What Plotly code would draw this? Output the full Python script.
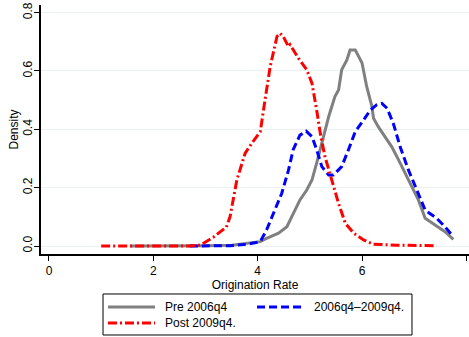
import plotly.graph_objects as go

# Pre 2006q4
pre_x = [1.55, 2.5, 3.0, 3.5, 4.05, 4.17, 4.4, 4.56, 4.68, 4.81, 4.94, 5.04, 5.13, 5.23, 5.36, 5.48, 5.55,
         5.61, 5.71, 5.77, 5.87, 6.0, 6.09, 6.19, 6.22, 6.31, 6.44, 6.57, 6.7, 6.83, 6.95, 7.08, 7.21,
         7.4, 7.59, 7.75]
pre_y = [0.0, 0.0, 0.001, 0.003, 0.015, 0.026, 0.044, 0.066, 0.112, 0.158, 0.192, 0.226, 0.284, 0.352,
         0.443, 0.512, 0.535, 0.604, 0.638, 0.672, 0.672, 0.627, 0.546, 0.478, 0.438, 0.409, 0.375,
         0.34, 0.295, 0.249, 0.203, 0.158, 0.095, 0.072, 0.049, 0.023]

# 2006q4-2009q4
mid_x = [2.7, 3.0, 3.47, 3.8, 4.05, 4.17, 4.3, 4.46, 4.59, 4.68, 4.81, 4.93, 5.04, 5.13, 5.23, 5.36,
         5.45, 5.61, 5.74, 5.87, 6.03, 6.16, 6.28, 6.38, 6.48, 6.6, 6.73, 6.89, 7.05, 7.21, 7.43,
         7.59, 7.72]
mid_y = [0.0, 0.0, 0.001, 0.006, 0.015, 0.055, 0.112, 0.18, 0.26, 0.33, 0.38, 0.394, 0.375, 0.33,
         0.272, 0.243, 0.243, 0.272, 0.33, 0.392, 0.432, 0.466, 0.484, 0.489, 0.472, 0.42, 0.34,
         0.26, 0.192, 0.123, 0.095, 0.066, 0.038]

# Post 2009q4
post_x = [1.0, 2.0, 2.7, 2.9, 3.15, 3.4, 3.47, 3.6, 3.76, 3.89, 4.05, 4.14, 4.24, 4.37, 4.43, 4.49,
          4.59, 4.62, 4.78, 4.94, 5.04, 5.13, 5.2, 5.29, 5.42, 5.55, 5.68, 5.84, 6.03, 6.22, 6.67,
          7.43]
post_y = [0.0, 0.0, 0.0, 0.003, 0.03, 0.065, 0.10, 0.226, 0.318, 0.353, 0.392, 0.50, 0.615, 0.718,
          0.729, 0.718, 0.683, 0.69, 0.644, 0.604, 0.558, 0.466, 0.386, 0.306, 0.226, 0.146, 0.078,
          0.044, 0.021, 0.006, 0.003, 0.001]

series_names = ["Pre 2006q4", "2006q4\u20132009q4.", "Post 2009q4."]
series_colors = ["#808080", "#0000ff", "#ff0000"]
series_dash = ["solid", "8px,4px", "9px,3px,2px,3px"]

x_ticks = [0, 2, 4, 6, 8]
y_ticks = [0.0, 0.2, 0.4, 0.6, 0.8]

FONT = "Liberation Sans, Arial, sans-serif"

fig = go.Figure()
for xs, ys, nm, col, ds in zip([pre_x, mid_x, post_x], [pre_y, mid_y, post_y],
                               series_names, series_colors, series_dash):
    fig.add_trace(go.Scatter(x=xs, y=ys, mode="lines", name=nm, showlegend=False,
                             line=dict(color=col, width=3, dash=ds)))

# legend drawn in paper coordinates (box, samples, labels)
fig.add_shape(type="rect", xref="paper", yref="paper", x0=0.1449, x1=0.8668, y0=-0.1606, y1=-0.3253,
              line=dict(color="#000", width=1), fillcolor="white")
legend_slots = [(0.1565, 0.2664, 0.2850, -0.2129),   # Pre 2006q4
                (0.5047, 0.6098, 0.6332, -0.2129),   # 2006q4-2009q4
                (0.1565, 0.2664, 0.2850, -0.2771)]   # Post 2009q4
for (sx0, sx1, tx, ly), nm, col, ds in zip(legend_slots, series_names, series_colors, series_dash):
    fig.add_shape(type="line", xref="paper", yref="paper", x0=sx0, x1=sx1, y0=ly, y1=ly,
                  line=dict(color=col, width=3, dash=ds))
    fig.add_annotation(xref="paper", yref="paper", x=tx, y=ly, text=nm, showarrow=False,
                       xanchor="left", yanchor="middle", font=dict(size=12, color="#000"))

# y-axis title
fig.add_annotation(xref="paper", yref="paper", x=-0.0654, y=0.5, text="Density", showarrow=False,
                   textangle=-90, xanchor="center", yanchor="middle", font=dict(size=12, color="#000"))

fig.update_layout(
    width=469, height=337,
    margin=dict(l=41, r=0, t=5, b=83, autoexpand=False),
    plot_bgcolor="white", paper_bgcolor="white",
    font=dict(family=FONT, size=12, color="#000"),
    showlegend=False,
)
fig.update_xaxes(range=[-0.153, 8.05], tickvals=x_ticks, ticks="outside", ticklen=5,
                 tickcolor="#000", showline=True, linecolor="#000", linewidth=1.5,
                 showgrid=False, zeroline=False,
                 title=dict(text="Origination Rate", standoff=0, font=dict(size=12)))
fig.update_yaxes(range=[-0.0274, 0.826], tickvals=y_ticks, tickformat=".1f", ticks="outside",
                 ticklen=5, tickcolor="#000", showline=True, linecolor="#000", linewidth=1.5,
                 showgrid=True, gridcolor="#eaf2f3", gridwidth=1, zeroline=False, tickangle=-90,
                 ticklabelstandoff=-3)

fig.write_html("out.html")
